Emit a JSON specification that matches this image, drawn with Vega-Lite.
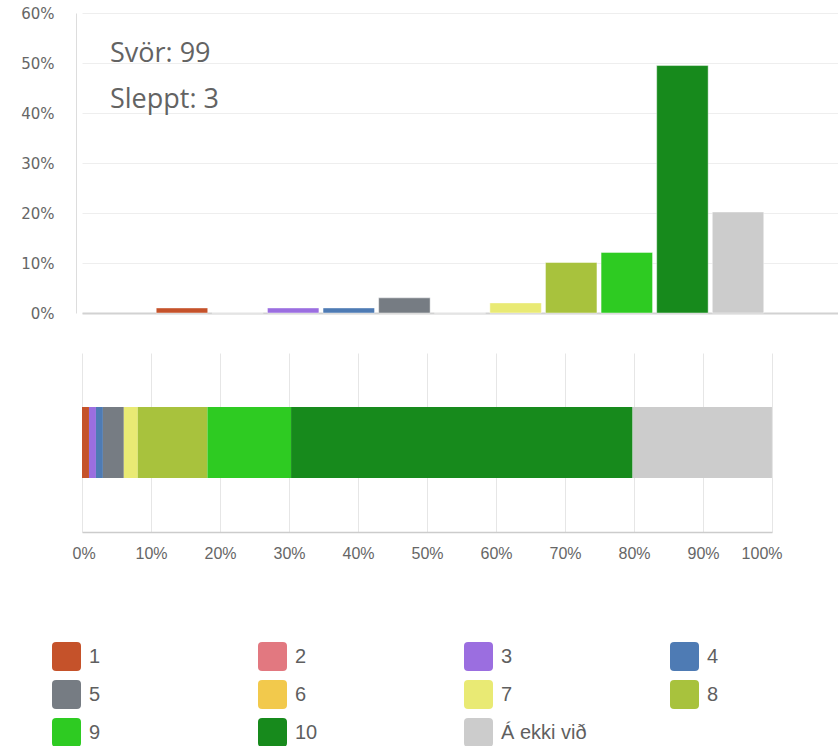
{
  "$schema": "https://vega.github.io/schema/vega-lite/v6.json",
  "padding": {"left": 20, "top": 6, "right": 0, "bottom": 0},
  "spacing": 32,
  "config": {
    "view": {"stroke": null},
    "font": "Liberation Sans"
  },
  "datasets": {
    "svor": [
      {"svar": "1", "nr": 1, "fjoldi": 1, "hlutfall": 0.0101},
      {"svar": "2", "nr": 2, "fjoldi": 0, "hlutfall": 0},
      {"svar": "3", "nr": 3, "fjoldi": 1, "hlutfall": 0.0101},
      {"svar": "4", "nr": 4, "fjoldi": 1, "hlutfall": 0.0101},
      {"svar": "5", "nr": 5, "fjoldi": 3, "hlutfall": 0.0303},
      {"svar": "6", "nr": 6, "fjoldi": 0, "hlutfall": 0},
      {"svar": "7", "nr": 7, "fjoldi": 2, "hlutfall": 0.0202},
      {"svar": "8", "nr": 8, "fjoldi": 10, "hlutfall": 0.101},
      {"svar": "9", "nr": 9, "fjoldi": 12, "hlutfall": 0.1212},
      {"svar": "10", "nr": 10, "fjoldi": 49, "hlutfall": 0.4949},
      {"svar": "Á ekki við", "nr": 11, "fjoldi": 20, "hlutfall": 0.202}
    ]
  },
  "vconcat": [
    {
      "width": 756,
      "height": 300,
      "layer": [
        {
          "data": {"name": "svor"},
          "mark": {"type": "bar", "stroke": "#ffffff", "strokeOpacity": 0.45, "strokeWidth": 1},
          "encoding": {
            "x": {
              "field": "svar", "type": "nominal", "sort": null,
              "scale": {
                "domain": [" ", "1", "2", "3", "4", "5", "6", "7", "8", "9", "10", "Á ekki við", "  "],
                "paddingInner": 0.074, "paddingOuter": 0.335, "align": 0.5
              },
              "axis": {"labels": false, "ticks": false, "title": null, "grid": false, "domainColor": "#d2d2d2", "domainWidth": 2}
            },
            "y": {
              "field": "hlutfall", "type": "quantitative",
              "scale": {"domain": [0, 0.6], "nice": false},
              "axis": {
                "values": [0, 0.1, 0.2, 0.3, 0.4, 0.5, 0.6], "format": ".0%", "title": null,
                "ticks": false, "offset": 6, "labelPadding": 22, "labelBaseline": "middle", "labelDy": 1.5,
                "labelFont": "DejaVu Sans", "labelFontSize": 15, "labelColor": "#666666",
                "domainColor": "#dddddd", "gridColor": "#eeeeee", "grid": true
              }
            },
            "color": {
              "field": "svar", "type": "nominal", "sort": null,
              "scale": {
                "domain": ["1", "2", "3", "4", "5", "6", "7", "8", "9", "10", "Á ekki við"],
                "range": ["#c5522a", "#e27880", "#9b6ee0", "#4e7bb4", "#767c83", "#f2c94c", "#e9ea74", "#a8c23d", "#2ecb22", "#178a1c", "#cccccc"]
              },
              "legend": {
                "orient": "none", "legendX": -30, "legendY": 629, "direction": "horizontal", "columns": 4, "title": null,
                "symbolType": "M-1,-0.72 Q-1,-1 -0.72,-1 L0.72,-1 Q1,-1 1,-0.72 L1,0.72 Q1,1 0.72,1 L-0.72,1 Q-1,1 -1,0.72 Z",
                "symbolSize": 841, "symbolStrokeWidth": 0, "symbolOpacity": 1,
                "labelFont": "Liberation Sans", "labelFontSize": 20, "labelColor": "#5f5f5f", "labelOffset": 8,
                "columnPadding": 83, "rowPadding": 9, "gridAlign": "all", "labelLimit": 300
              }
            }
          }
        },
        {
          "data": {"values": [{"svor": "Svör: 99", "sleppt": "Sleppt: 3"}]},
          "mark": {"type": "text", "align": "left", "baseline": "alphabetic", "dx": -72, "font": "Open Sans", "fontSize": 27, "color": "#636363"},
          "encoding": {
            "x": {"datum": "1", "type": "nominal"},
            "y": {"datum": 0.502, "type": "quantitative"},
            "text": {"field": "svor"}
          }
        },
        {
          "data": {"values": [{"svor": "Svör: 99", "sleppt": "Sleppt: 3"}]},
          "mark": {"type": "text", "align": "left", "baseline": "alphabetic", "dx": -72, "font": "Open Sans", "fontSize": 27, "color": "#636363"},
          "encoding": {
            "x": {"datum": "1", "type": "nominal"},
            "y": {"datum": 0.41, "type": "quantitative"},
            "text": {"field": "sleppt"}
          }
        }
      ]
    },
    {
      "width": 690,
      "height": 179,
      "data": {"name": "svor"},
      "mark": {"type": "bar"},
      "encoding": {
        "x": {
          "field": "hlutfall", "type": "quantitative", "stack": "zero",
          "scale": {"domain": [0, 1], "nice": false},
          "axis": {
            "values": [0, 0.1, 0.2, 0.3, 0.4, 0.5, 0.6, 0.7, 0.8, 0.9, 1], "format": ".0%", "title": null,
            "grid": true, "gridColor": "#e6e6e6", "domainColor": "#cccccc", "domainWidth": 1.5,
            "ticks": false, "labelPadding": 13, "labelFlush": true, "labelFlushOffset": 10,
            "labelFont": "Liberation Sans", "labelFontSize": 16, "labelColor": "#666666"
          }
        },
        "y": {"datum": "allir", "type": "nominal", "scale": {"paddingInner": 0, "paddingOuter": 0.76}, "axis": null},
        "order": {"field": "nr", "type": "quantitative"},
        "color": {
          "field": "svar", "type": "nominal", "sort": null,
          "scale": {
            "domain": ["1", "2", "3", "4", "5", "6", "7", "8", "9", "10", "Á ekki við"],
            "range": ["#c5522a", "#e27880", "#9b6ee0", "#4e7bb4", "#767c83", "#f2c94c", "#e9ea74", "#a8c23d", "#2ecb22", "#178a1c", "#cccccc"]
          },
          "legend": {
            "orient": "none", "legendX": -30, "legendY": 629, "direction": "horizontal", "columns": 4, "title": null,
            "symbolType": "M-1,-0.72 Q-1,-1 -0.72,-1 L0.72,-1 Q1,-1 1,-0.72 L1,0.72 Q1,1 0.72,1 L-0.72,1 Q-1,1 -1,0.72 Z",
            "symbolSize": 841, "symbolStrokeWidth": 0, "symbolOpacity": 1,
            "labelFont": "Liberation Sans", "labelFontSize": 20, "labelColor": "#5f5f5f", "labelOffset": 8,
            "columnPadding": 83, "rowPadding": 9, "gridAlign": "all", "labelLimit": 300
          }
        }
      }
    }
  ]
}
